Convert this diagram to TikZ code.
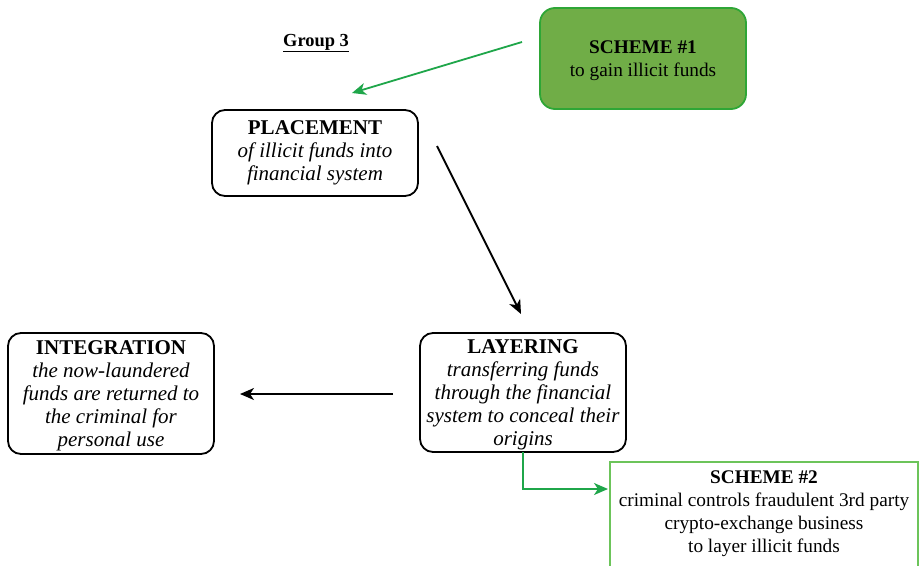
\documentclass[tikz,border=0pt]{standalone}
\usepackage{fontspec}
\setmainfont{Liberation Serif}
\usetikzlibrary{arrows.meta}
\definecolor{schemefill}{HTML}{70AD47}
\definecolor{schemeedge}{HTML}{2EA636}
\definecolor{arrowgreen}{HTML}{1FA64A}
\definecolor{lightedge}{HTML}{6CC45A}
\tikzset{
  x=1pt, y=-1pt,
  stage/.style={draw=black, line width=1.8pt, rounded corners=13pt},
  stagetext/.style={align=center, font=\fontsize{21}{23}\selectfont},
  schemetext/.style={align=center, font=\fontsize{19.3}{23}\selectfont},
  blackarrow/.style={draw=black, line width=1.8pt, -{Stealth[length=14pt,width=12pt,inset=4pt]}},
  greenarrow/.style={draw=arrowgreen, line width=1.8pt, -{Stealth[length=14pt,width=12pt,inset=4pt]}},
}
\begin{document}
\begin{tikzpicture}
\useasboundingbox (0,0) rectangle (920,565);
\fill[white] (0,0) rectangle (920,565);

% source scheme
\draw[stage, draw=schemeedge, fill=schemefill, rounded corners=15pt] (540,8) rectangle (746,109);
\node[schemetext] (s1) at (643,60.5) {\textbf{SCHEME \#1}\\to gain illicit funds};
\coordinate (s1w) at (522,42);

% laundering stages
\draw[stage] (212,110) rectangle (418,196);
\node[stagetext] (pl) at (315,153)
  {\textbf{PLACEMENT}\\\textit{of illicit funds into}\\\textit{financial system}};

\draw[stage] (8,333) rectangle (214,454);
\node[stagetext] (in) at (111,395.5)
  {\textbf{INTEGRATION}\\\textit{the now-laundered}\\\textit{funds are returned to}\\\textit{the criminal for}\\\textit{personal use}};

\draw[stage] (420,333) rectangle (626,452);
\node[stagetext] (la) at (523,395)
  {\textbf{LAYERING}\\\textit{transferring funds}\\\textit{through the financial}\\\textit{system to conceal their}\\\textit{origins}};

% layering scheme
\draw[draw=lightedge, line width=1.8pt] (610,462) rectangle (918,570);
\node[schemetext] (s2) at (764,514)
  {\textbf{SCHEME \#2}\\criminal controls fraudulent 3rd party\\crypto-exchange business\\to layer illicit funds};

% title
\node[font=\fontsize{18.4}{20}\selectfont\bfseries] (title) at (316,43) {\underline{Group 3}};

% connectors
\coordinate (plin) at (352,93);
\coordinate (plout) at (437,146);
\coordinate (lain) at (521,314);
\coordinate (laout) at (393,394);
\coordinate (inin) at (240,394);
\coordinate (labot) at (523,452);
\coordinate (s2in) at (608,489);
\draw[greenarrow] (s1w) -- (plin);
\draw[blackarrow] (plout) -- (lain);
\draw[blackarrow] (laout) -- (inin);
\draw[greenarrow] (labot) |- (s2in);
\end{tikzpicture}
\end{document}
